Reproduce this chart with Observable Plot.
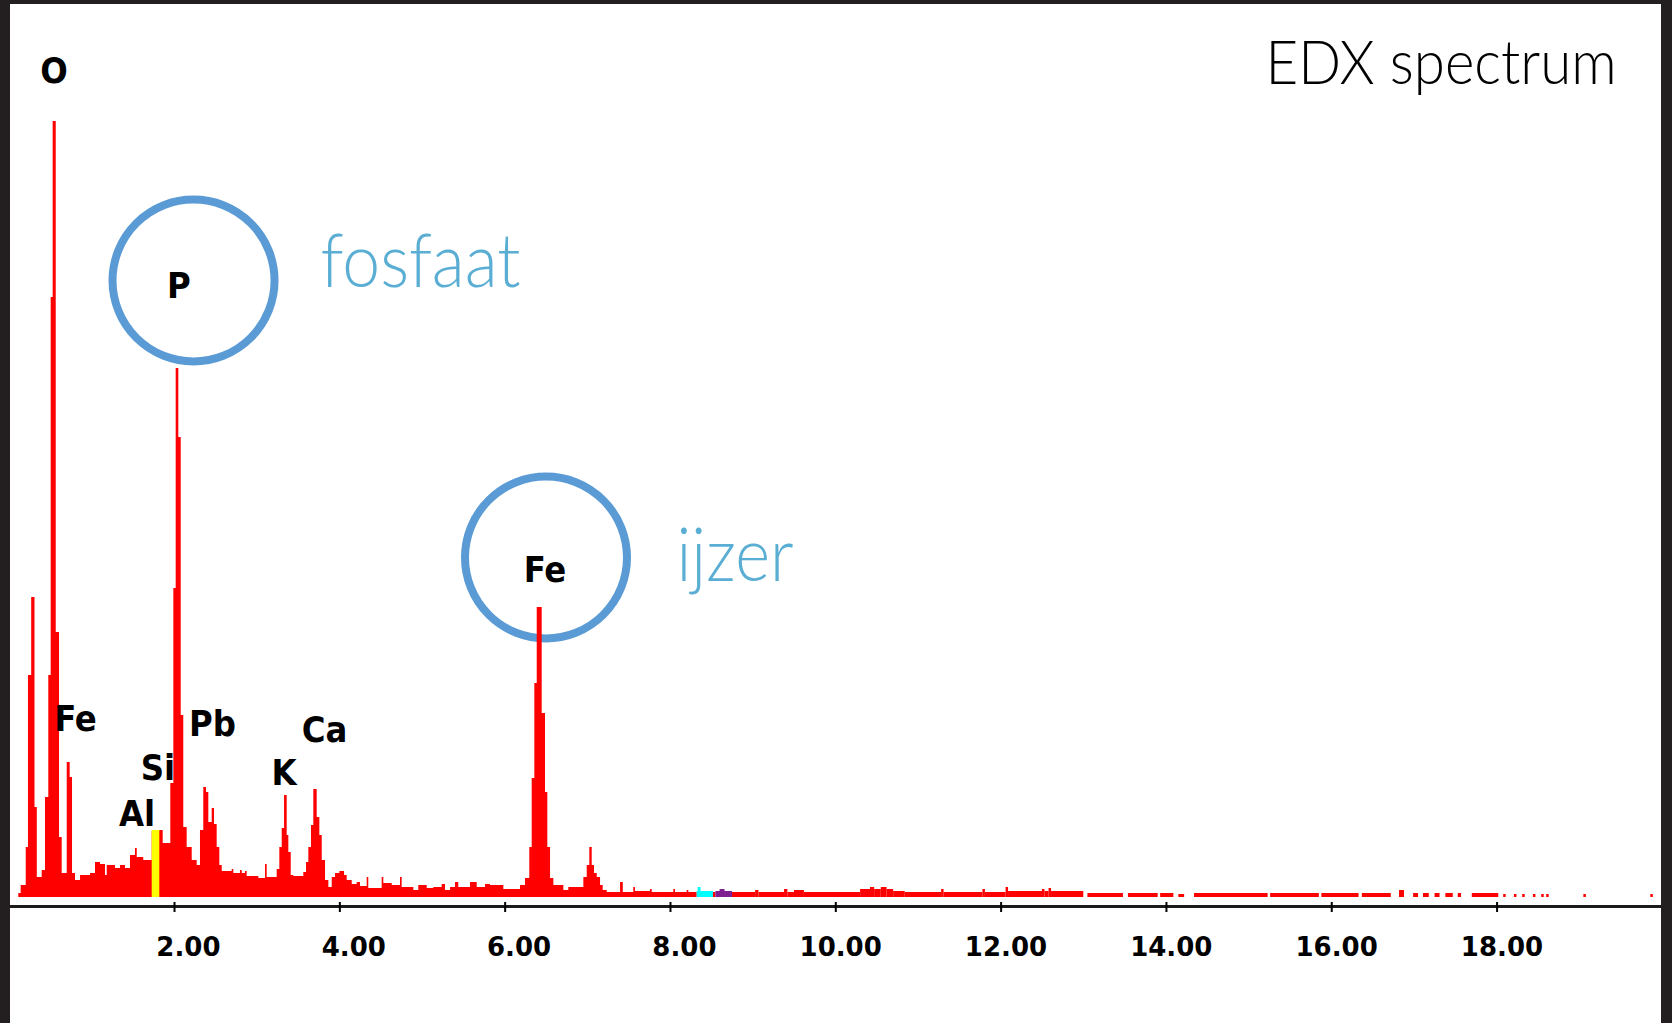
<!DOCTYPE html>
<html>
<head>
<meta charset="utf-8">
<script src="https://cdn.jsdelivr.net/npm/d3@7"></script>
<script src="https://cdn.jsdelivr.net/npm/@observablehq/plot@0.6"></script>
<style>
html, body { margin: 0; padding: 0; background: #fff; overflow: hidden; }
#wrap { position: relative; width: 1672px; height: 1023px; }
#chart { position: absolute; left: 0; top: 0; }
.border { position: absolute; background: #231f20; }
</style>
</head>
<body>
<div id="wrap">
  <div id="chart"></div>
  <div class="border" style="left:0;top:0;width:10px;height:1023px"></div>
  <div class="border" style="left:0;top:0;width:1672px;height:4px"></div>
  <div class="border" style="left:1661px;top:0;width:11px;height:1023px"></div>
</div>
<script>
// ---- Spectrum (energy in keV, counts) : step histogram 0.1 - 8.3 keV ----
const stepKeV = [
  0.116, 0.145, 0.206, 0.233, 0.272, 0.312, 0.340, 0.399, 0.439, 0.479,
  0.508, 0.532, 0.569, 0.609, 0.641, 0.702, 0.738, 0.766, 0.802, 0.863,
  0.984, 1.044, 1.105, 1.165, 1.186, 1.286, 1.347, 1.407, 1.467, 1.528,
  1.549, 1.628, 1.730, 1.822, 1.863, 1.955, 1.992, 2.020, 2.052, 2.081,
  2.112, 2.153, 2.214, 2.274, 2.314, 2.354, 2.387, 2.415, 2.456, 2.484,
  2.516, 2.548, 2.577, 2.698, 2.717, 2.798, 2.819, 2.859, 2.879, 3.020,
  3.101, 3.121, 3.242, 3.274, 3.303, 3.331, 3.363, 3.383, 3.412, 3.443,
  3.564, 3.597, 3.625, 3.657, 3.685, 3.726, 3.758, 3.787, 3.827, 3.867,
  3.908, 3.948, 4.000, 4.057, 4.089, 4.150, 4.210, 4.250, 4.331, 4.350,
  4.512, 4.532, 4.634, 4.734, 4.754, 4.895, 4.955, 5.057, 5.137, 5.238,
  5.278, 5.339, 5.399, 5.439, 5.581, 5.662, 5.762, 5.823, 5.984, 6.186,
  6.246, 6.298, 6.327, 6.359, 6.388, 6.448, 6.488, 6.516, 6.549, 6.589,
  6.710, 6.770, 6.952, 6.993, 7.024, 7.053, 7.081, 7.114, 7.154, 7.186,
  7.235, 7.396, 7.429, 7.556, 7.576, 7.759, 7.779, 8.041, 8.061, 8.202,
  8.222, 8.323
];
const stepCounts = [
  4, 12, 50, 222, 300, 90, 20, 27, 100, 222,
  600, 776, 265, 60, 24, 135, 120, 24, 17, 22,
  24, 35, 33, 22, 32, 29, 32, 29, 42, 49,
  40, 37, 66, 67, 54, 114, 309, 529, 460, 182,
  70, 50, 37, 32, 67, 110, 105, 75, 89, 73,
  50, 32, 26, 28, 24, 27, 24, 26, 21, 19,
  33, 20, 28, 50, 69, 102, 62, 45, 22, 21,
  25, 35, 50, 72, 108, 80, 62, 37, 17, 10,
  20, 24, 26, 22, 17, 13, 15, 11, 20, 9,
  20, 14, 12, 20, 10, 7, 12, 9, 10, 13,
  7, 10, 15, 10, 15, 10, 13, 12, 8, 12,
  19, 50, 119, 214, 290, 184, 105, 50, 19, 12,
  7, 10, 20, 32, 50, 32, 24, 20, 12, 7,
  5, 15, 5, 10, 6, 8, 5, 8, 5, 7,
  5, 0
];

// ---- High-energy tail (segments) ----
const tailStartKeV = [8.52, 8.75, 9.03, 9.07, 9.38, 9.42, 9.50, 9.62, 10.30, 10.42, 10.47, 10.55, 10.62, 10.70, 10.84, 11.28, 11.31, 11.78, 11.81, 12.06, 12.09, 12.50, 12.53, 12.58, 12.61,
  13.05, 13.54, 13.93, 14.15, 14.34, 15.26, 15.88, 16.37, 16.82, 16.99, 17.11, 17.25, 17.38, 17.53, 17.70, 18.08, 18.21, 18.31, 18.44, 18.54, 18.60, 19.05, 19.86];
const tailEndKeV = [8.55, 9.03, 9.07, 9.38, 9.42, 9.50, 9.62, 10.30, 10.42, 10.47, 10.55, 10.62, 10.70, 10.84, 11.28, 11.31, 11.78, 11.81, 12.06, 12.09, 12.50, 12.53, 12.58, 12.61, 13.00,
  13.48, 13.90, 14.09, 14.22, 15.23, 15.85, 16.33, 16.72, 16.88, 17.05, 17.18, 17.31, 17.47, 17.57, 18.02, 18.11, 18.24, 18.34, 18.47, 18.57, 18.63, 19.08, 19.89];
const tailCounts = [5, 5, 7, 5, 8, 5, 7, 5, 8, 10, 8, 10, 8, 6, 5, 8, 5, 8, 5, 10, 6, 8, 6, 9, 6,
  4, 4, 4, 3, 4, 4, 4, 4, 7, 4, 4, 4, 4, 4, 4, 3, 3, 3, 3, 3, 3, 3, 3];

// ---- Highlighted ROI markers ----
const markerKind = ["Si", "roi1", "roi1", "roi2", "roi2"];
const markerStartKeV = [1.730, 8.323, 8.335, 8.550, 8.600];
const markerEndKeV = [1.822, 8.520, 8.370, 8.750, 8.660];
const markerCounts = [67, 6, 10, 6, 8];

// ---- Axis ticks ----
const xTickValues = [2, 4, 6, 8, 10, 12, 14, 16, 18];
const xTickLabels = ["2.00", "4.00", "6.00", "8.00", "10.00", "12.00", "14.00", "16.00", "18.00"];

// ---- Peak labels ----
const labelText = ["O", "Fe", "Al", "Si", "P", "Pb", "K", "Ca", "Fe"];
const labelKeV = [0.542, 0.802, 1.546, 1.800, 2.054, 2.459, 3.324, 3.814, 6.482];
const labelCounts = [815, 167, 72, 118, 600, 162, 113, 156, 316];

// ---- Annotations ----
const circleKeV = [2.230, 6.494];
const circleCounts = [617, 340];
const noteText = ["fosfaat", "ijzer"];
const noteKeV = [3.766, 8.073];
const noteCounts = [611, 317];
const titleText = ["EDX spectrum"];
const titleKeV = [19.445];
const titleCounts = [814];

// ---- build tables ----
const steps = stepKeV.map((e, i) => ({keV: e, counts: stepCounts[i]}));
const tail = tailStartKeV.map((e, i) => ({x1: e, x2: tailEndKeV[i], counts: tailCounts[i]}));
const markers = markerKind.map((k, i) => ({kind: k, x1: markerStartKeV[i], x2: markerEndKeV[i], counts: markerCounts[i]}));
const labels = labelText.map((t, i) => ({t, keV: labelKeV[i], counts: labelCounts[i]}));
const circles = circleKeV.map((e, i) => ({keV: e, counts: circleCounts[i]}));
const notes = noteText.map((t, i) => ({t, keV: noteKeV[i], counts: noteCounts[i]}));
const titles = titleText.map((t, i) => ({t, keV: titleKeV[i], counts: titleCounts[i]}));

const markerColor = {Si: "#ffff00", roi1: "#00ffff", roi2: "#7f1f8f"};
const labelFont = "'DejaVu Sans Condensed', 'Liberation Sans Narrow', 'DejaVu Sans', sans-serif";
const noteFont = "Lato, 'Open Sans', sans-serif";

const plot = Plot.plot({
  width: 1672,
  height: 1023,
  marginLeft: 10,
  marginRight: 11,
  marginTop: 4,
  marginBottom: 117,
  style: {background: "white", color: "#000", fontFamily: "'DejaVu Sans', sans-serif", overflow: "visible"},
  x: {domain: [0, 20], range: [8.7, 1661.9], label: null},
  y: {domain: [0, 776], range: [897, 121], axis: null, label: null},
  marks: [
    Plot.dot(circles, {x: "keV", y: "counts", r: 81, stroke: "#5b9bd5", strokeWidth: 8, fill: "none"}),
    Plot.areaY(steps, {x: "keV", y1: 0, y2: "counts", curve: "step-after", fill: "#ff0000"}),
    Plot.rectY(tail, {x1: "x1", x2: "x2", y1: 0, y2: "counts", fill: "#ff0000"}),
    Plot.rectY(markers, {x1: "x1", x2: "x2", y1: 0, y2: "counts", fill: d => markerColor[d.kind]}),
    Plot.frame({anchor: "bottom", stroke: "#1a1a1a", strokeWidth: 3}),
    Plot.ruleX(xTickValues, {stroke: "#000", strokeWidth: 2, insetTop: 898, insetBottom: -6}),
    Plot.axisX({
      ticks: xTickValues,
      tickFormat: d => xTickLabels[xTickValues.indexOf(d)],
      tickSize: 0,
      tickPadding: 31,
      textAnchor: "end",
      dx: 46,
      fontSize: 26,
      fontWeight: "bold",
      fontFamily: "'DejaVu Sans', sans-serif",
      fill: "#000"
    }),
    Plot.text(labels, {x: "keV", y: "counts", text: "t", textAnchor: "middle", lineAnchor: "bottom",
      fontSize: 36, fontWeight: "bold", fontFamily: labelFont, fill: "#000"}),
    Plot.text(notes, {x: "keV", y: "counts", text: "t", textAnchor: "start", lineAnchor: "bottom",
      fontSize: 74, fontWeight: 300, fontFamily: noteFont, fill: "#5aaed3"}),
    Plot.text(titles, {x: "keV", y: "counts", text: "t", textAnchor: "end", lineAnchor: "bottom",
      fontSize: 61, fontWeight: 300, fontFamily: noteFont, fill: "#000"})
  ]
});

// fit annotation text widths to the Calibri-like originals
const fitWidth = {"EDX spectrum": 351, "fosfaat": 200, "ijzer": 117};
d3.select(plot).selectAll("text").each(function () {
  const w = fitWidth[this.textContent];
  if (w) {
    this.setAttribute("textLength", w);
    this.setAttribute("lengthAdjust", "spacingAndGlyphs");
  }
});

document.getElementById("chart").appendChild(plot);
</script>
</body>
</html>
